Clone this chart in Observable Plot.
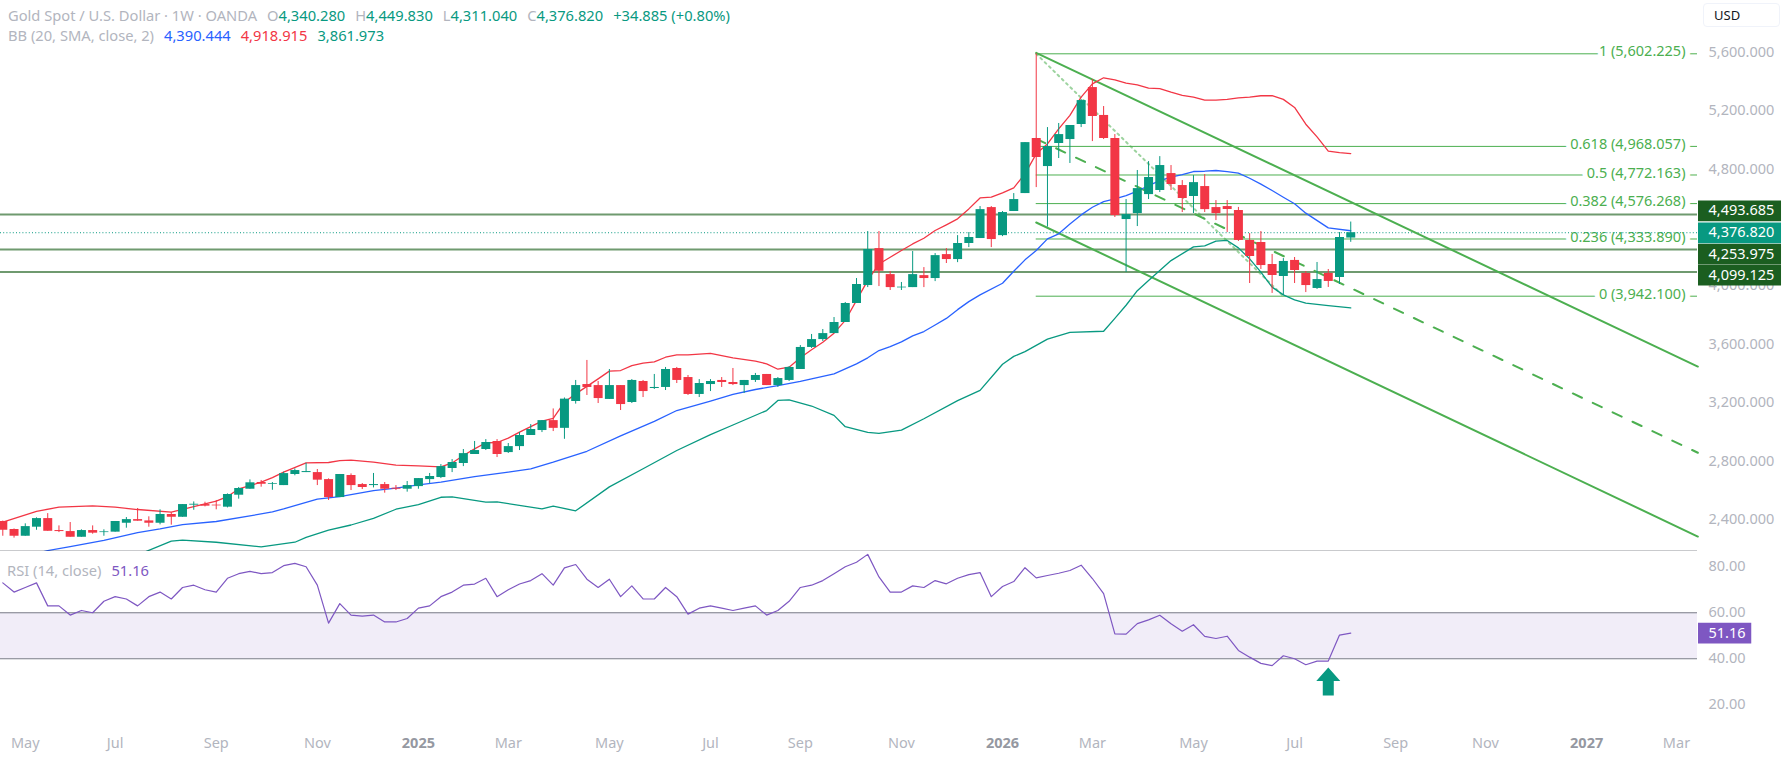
<!DOCTYPE html>
<html>
<head>
<meta charset="utf-8">
<script src="https://cdn.jsdelivr.net/npm/d3@7"></script>
<script src="https://cdn.jsdelivr.net/npm/@observablehq/plot@0.6"></script>
<style>
html,body{margin:0;padding:0;background:#fff;overflow:hidden}
#wrap{position:relative;width:1782px;height:758px;font-family:"Noto Sans",sans-serif}
#wrap svg{display:block;background:transparent}
.hd{position:absolute;left:8px;font-size:14.7px;line-height:20px;white-space:nowrap;color:#b2b5be}
.g{color:#089981}.r{color:#f23645}.b{color:#2962ff}.p{color:#7e57c2}
.gap{margin-left:10px}
#usd{position:absolute;left:1703px;top:3px;width:77px;height:24px;box-sizing:border-box;border:1px solid #f0f3fa;border-radius:4px;font-size:13px;line-height:22px;color:#131722;padding-left:10px}
</style>
</head>
<body>
<div id="wrap">
<div id="main"></div>
<div id="rsi"></div>
<div class="hd" style="top:5px">Gold Spot / U.S. Dollar · 1W · OANDA<span class="gap"></span>O<span class="g">4,340.280</span><span class="gap"></span>H<span class="g">4,449.830</span><span class="gap"></span>L<span class="g">4,311.040</span><span class="gap"></span>C<span class="g">4,376.820</span><span class="gap g">+34.885 (+0.80%)</span></div>
<div class="hd" style="top:25px">BB (20, SMA, close, 2)<span class="gap b">4,390.444</span><span class="gap r">4,918.915</span><span class="gap g">3,861.973</span></div>
<div class="hd" style="top:560px;left:7px">RSI (14, close)<span class="gap p">51.16</span></div>
<div id="usd">USD</div>
</div>
<script>
const opens = [2399,2344,2298,2360,2419,2337,2330,2291,2337,2323,2326,2387,2412,2403,2387,2447,2428,2511,2515,2511,2497,2579,2620,2666,2654,2645,2721,2734,2734,2686,2563,2714,2652,2645,2652,2627,2620,2638,2686,2700,2762,2796,2858,2892,2947,2871,2912,2988,3022,3090,3037,3221,3337,3330,3235,3330,3214,3358,3310,3317,3447,3385,3269,3337,3365,3351,3330,3365,3406,3330,3365,3440,3591,3645,3686,3762,3892,4015,4268,4090,3999,4001,4083,4063,4227,4193,4303,4337,4549,4357,4522,4645,5022,4830,4988,5015,5118,5371,5180,5022,4467,4508,4638,4666,4782,4700,4625,4693,4549,4556,4529,4324,4310,4159,4077,4187,4098,3995,4098,4070,4340.28];
const highs = [2402,2348,2383,2424,2453,2369,2392,2342,2369,2342,2399,2426,2488,2431,2479,2460,2515,2533,2531,2543,2588,2632,2684,2680,2666,2737,2759,2798,2755,2691,2721,2725,2659,2728,2666,2645,2673,2693,2728,2789,2823,2892,2947,2960,2960,2933,3008,3063,3090,3170,3245,3365,3502,3358,3440,3330,3371,3365,3406,3454,3454,3399,3371,3371,3385,3447,3365,3413,3406,3385,3460,3604,3680,3714,3796,3899,4063,4385,4385,4111,4036,4248,4138,4234,4268,4357,4378,4556,4556,4522,4645,4994,5602.225,5097,5125,5111,5289,5426,5241,5049,4604,4803,4864,4898,4837,4734,4768,4775,4597,4597,4550,4371,4385,4228,4200,4207,4111,4173,4125,4378,4449.83];
const lows = [2298,2285,2298,2339,2332,2323,2291,2291,2312,2298,2326,2353,2401,2360,2376,2374,2428,2476,2499,2479,2492,2552,2620,2634,2613,2645,2712,2734,2645,2543,2563,2611,2618,2629,2593,2611,2600,2620,2659,2693,2734,2775,2858,2885,2837,2865,2885,2988,3008,3015,2962,3203,3262,3207,3235,3159,3207,3248,3303,3296,3344,3262,3248,3289,3317,3330,3276,3351,3330,3317,3358,3440,3584,3632,3686,3762,3892,4001,4008,3981,3981,4001,4001,4042,4166,4172,4275,4337,4275,4350,4522,4645,4686,4415,4885,4851,5097,5001,5015,4481,4104,4419,4604,4652,4666,4515,4508,4515,4460,4378,4317,4029,4125,3961,3947,4029,3967,3988,4002,4022,4311.04];
const closes = [2339,2298,2364,2419,2332,2330,2291,2337,2319,2328,2399,2412,2401,2387,2447,2428,2515,2517,2504,2506,2584,2625,2664,2654,2659,2727,2748,2741,2682,2563,2721,2645,2632,2652,2620,2620,2645,2693,2707,2775,2803,2864,2885,2940,2858,2912,2988,3029,3090,3037,3237,3330,3317,3241,3330,3200,3365,3289,3317,3440,3365,3269,3344,3358,3351,3337,3365,3399,3330,3378,3454,3591,3645,3686,3762,3892,4022,4262,4113,4001,4004,4090,4063,4220,4193,4303,4344,4535,4330,4515,4604,4994,4892,4967,5049,5111,5282,5173,5022,4494,4501,4679,4755,4837,4707,4611,4720,4535,4508,4536,4324,4214,4152,4084,4180,4118,4015,4056,4043,4344,4376.82];

const bbUpperBars = [0,3,5,8,10,12,15,17,19,20,21,22,23,24,25,27,29,30,31,33,35,37,39,40,41,42,43,44,45,46,47,48,49,50,51,53,54,55,56,57,58,59,60,61,63,65,67,68,69,70,71,72,73,74,75,76,77,78,79,80,81,82,83,84,85,86,87,88,89,90,91,92,93,94,95,96,97,98,99,100,101,102,103,104,105,106,107,108,109,110,111,112,113,114,115,116,117,118,119,120];
const bbUpperValues = [2394,2469,2497,2506,2497,2481,2463,2501,2538,2570,2622,2645,2668,2700,2737,2800,2803,2816,2819,2805,2785,2780,2773,2800,2851,2896,2938,2940,2970,3011,3049,3086,3106,3216,3273,3376,3429,3433,3467,3483,3492,3524,3540,3540,3550,3520,3497,3479,3442,3456,3520,3575,3627,3689,3776,3913,4050,4163,4209,4255,4300,4339,4392,4431,4472,4540,4615,4620,4650,4684,4780,4917,4985,5088,5180,5305,5396,5438,5424,5401,5390,5367,5364,5339,5317,5305,5285,5285,5290,5300,5305,5315,5315,5290,5235,5120,5033,4935,4925,4918.915];
const bbMidBars = [3,4,6,9,12,14,16,19,22,24,25,28,30,33,35,37,39,42,45,47,49,52,55,58,60,63,65,67,69,71,72,74,76,77,78,79,80,81,82,83,84,85,86,87,89,90,91,92,93,94,95,96,97,98,99,100,101,102,103,104,105,106,107,108,109,110,111,112,113,114,115,116,118,120];
const bbMidValues = [2180,2200,2227,2269,2323,2348,2378,2399,2437,2465,2485,2552,2570,2611,2627,2650,2668,2707,2737,2760,2805,2880,2985,3085,3159,3223,3269,3303,3330,3358,3376,3410,3479,3520,3570,3597,3629,3670,3700,3745,3790,3850,3905,3951,4031,4113,4191,4255,4335,4369,4437,4499,4551,4590,4608,4631,4661,4700,4734,4757,4775,4796,4798,4803,4795,4785,4750,4710,4666,4620,4575,4511,4410,4390.444];
const bbLowerBars = [12,15,16,19,23,26,27,29,31,33,35,37,39,40,43,44,48,49,51,54,57,60,63,65,68,69,70,72,74,75,77,78,80,82,85,87,89,90,91,93,95,98,99,100,101,102,104,106,107,108,109,110,111,112,113,114,115,116,118,120];
const bbLowerValues = [2170,2264,2271,2257,2225,2257,2290,2340,2375,2420,2483,2515,2565,2568,2531,2533,2485,2504,2472,2636,2760,2885,2994,3060,3159,3228,3232,3190,3126,3048,3009,3002,3025,3103,3227,3297,3476,3530,3562,3648,3694,3702,3790,3880,3980,4050,4186,4280,4287,4319,4324,4273,4198,4107,4004,3951,3917,3894,3878,3861.973];

const rsiValues = [73,69,71,73,63,63,59,61,60,65,67,66,63,67,69,66,71,72,70,69,75,77,78,77,77.5,80.5,81.5,80,72,55.5,64,59,58.5,59,56,56,57.5,62,63,67,69,72,72.5,75,67,70,72.5,74,77,72,79.5,81,74.6,71,74.6,67,71.7,66,66,71,67,59.4,62,63,62,61,62,63,59,61,65,71,72,74,77,80,82,85.4,75.6,69,69,71.7,71,74,72.6,75,76.6,77.5,67,71.4,73.6,79.6,75.2,76.2,77.2,78.4,80.7,74.9,68.3,50.8,50.7,55.3,56.9,58.9,55.2,52,54.8,49.7,48.8,49.8,43.6,40.7,38,37,41.3,40,37.4,39,39,50.3,51.16];

const fibLevels = [5602.225,4968.057,4772.163,4576.268,4333.89,3942.1];
const fibRatios = ["1","0.618","0.5","0.382","0.236","0"];
const hLevels = [4493.685,4253.975,4099.125];
const lastPrice = 4376.82;
const priceTicks = [5600,5200,4800,4000,3600,3200,2800,2400];
const labelValues = [4493.685,4253.975,4099.125];
const labelSlots = [4526.9,4229.7,4086.6];
const lastSlot = 4376.3;
const rsiTicks = [80,60,40,20];
const rsiBandLevels = [60,40];
const rsiLast = 51.16;
const arrowBar = 118;
const arrowBase = 24;
const channelTop = [[92,5609],[150.9,3460]];
const channelMid = [[92,5020],[150.9,2870]];
const channelBottom = [[92,4447],[150.9,2296]];
const fibDiagonal = [[92,5602.225],[114,3942.1]];
const monthTicks = [["2024-05-06","May"],["2024-07-01","Jul"],["2024-09-02","Sep"],["2024-11-04","Nov"],["2025-03-03","Mar"],["2025-05-05","May"],["2025-07-07","Jul"],["2025-09-01","Sep"],["2025-11-03","Nov"],["2026-03-02","Mar"],["2026-05-04","May"],["2026-07-06","Jul"],["2026-09-07","Sep"],["2026-11-02","Nov"],["2027-03-01","Mar"]];
const yearTicks = [["2025-01-06","2025"],["2026-01-05","2026"],["2027-01-04","2027"]];

const GREEN="#089981",RED="#f23645",BLUE="#2962ff",DRAW="#4caf50",HL="#6f9a6f",DARK="#1b5e20",PURPLE="#7e57c2",AXIS="#b2b5be";
const FONT='"Noto Sans",sans-serif', FS=14.5;
const WEEK=7*864e5, T0=Date.UTC(2024,3,22);
const barDate=i=>new Date(T0+i*WEEK);
const xDomain=[barDate(-0.205),barDate(150.87)];
const xRight=xDomain[1];
const bars=opens.map((o,i)=>({date:barDate(i),o,h:highs[i],l:lows[i],c:closes[i],up:closes[i]>=o}));
const up=bars.filter(d=>d.up), dn=bars.filter(d=>!d.up);
const series=(b,v)=>b.map((i,k)=>({date:barDate(i),v:v[k]}));
const seg=a=>a.map(([i,v])=>({date:barDate(i),v}));
const fibRows=fibLevels.map((v,k)=>({v,t:`${fibRatios[k]} (${d3.format(",.3f")(v)})`}));
const fmt=d3.format(",.3f");

const main=Plot.plot({
  width:1782,height:551,marginTop:0,marginBottom:0,marginLeft:0,marginRight:85,
  style:{background:"transparent",fontFamily:FONT,fontSize:FS+"px"},
  x:{type:"utc",domain:xDomain,axis:null},
  y:{domain:[2193.5,5967.3],axis:null},
  marks:[
    Plot.axisY(priceTicks,{anchor:"right",tickSize:0,tickPadding:11,tickFormat:d=>fmt(d),label:null,color:AXIS,fontSize:FS,dy:-2}),
    Plot.ruleY(fibRows,{y:"v",x1:()=>barDate(92),x2:()=>xRight,stroke:DRAW,strokeWidth:1}),
    Plot.text(fibRows,{y:"v",text:"t",frameAnchor:"right",dx:-12,dy:-2,textAnchor:"end",fill:DRAW,stroke:"white",strokeWidth:10,fontSize:FS}),
    Plot.ruleY(hLevels,{stroke:HL,strokeWidth:2,dy:-1.2}),
    Plot.ruleY([lastPrice],{stroke:GREEN,strokeDasharray:"1,2.2",strokeWidth:1}),
    Plot.line(seg(fibDiagonal),{x:"date",y:"v",stroke:DRAW,strokeOpacity:.55,strokeWidth:2,strokeDasharray:"2,4"}),
    Plot.line(seg(channelTop),{x:"date",y:"v",stroke:DRAW,strokeWidth:2}),
    Plot.line(seg(channelBottom),{x:"date",y:"v",stroke:DRAW,strokeWidth:2}),
    Plot.line(seg(channelMid),{x:"date",y:"v",stroke:DRAW,strokeWidth:2,strokeDasharray:"10,12"}),
    Plot.line(series(bbUpperBars,bbUpperValues),{x:"date",y:"v",stroke:RED,strokeWidth:1.3,clip:true,curve:"linear"}),
    Plot.line(series(bbMidBars,bbMidValues),{x:"date",y:"v",stroke:BLUE,strokeWidth:1.3,clip:true}),
    Plot.line(series(bbLowerBars,bbLowerValues),{x:"date",y:"v",stroke:GREEN,strokeWidth:1.3,clip:true}),
    Plot.ruleX(up,{x:"date",y1:"l",y2:"h",stroke:GREEN,strokeWidth:1}),
    Plot.ruleX(dn,{x:"date",y1:"l",y2:"h",stroke:RED,strokeWidth:1}),
    Plot.ruleX(up,{x:"date",y1:"o",y2:"c",stroke:GREEN,strokeWidth:9,strokeLinecap:"butt"}),
    Plot.ruleX(dn,{x:"date",y1:"o",y2:"c",stroke:RED,strokeWidth:9,strokeLinecap:"butt"}),
    Plot.ruleY(labelSlots,{x1:()=>barDate(150.96),x2:()=>barDate(158.35),stroke:DARK,strokeWidth:20.8}),
    Plot.ruleY([lastSlot],{x1:()=>barDate(150.96),x2:()=>barDate(158.35),stroke:GREEN,strokeWidth:20.8}),
    Plot.text(labelSlots,{y:d=>d,text:(d,i)=>fmt(labelValues[i]),frameAnchor:"right",dx:11,textAnchor:"start",fill:"white",fontSize:FS}),
    Plot.text([lastSlot],{y:d=>d,text:()=>fmt(lastPrice),frameAnchor:"right",dx:11,textAnchor:"start",fill:"white",fontSize:FS}),
    Plot.ruleY([2193.5],{stroke:"#2a2e39",strokeWidth:1.5})
  ]
});
document.getElementById("main").append(main);

const arrowShape={draw(c,l){const w=12,s=5.5,h=l*0.48;c.moveTo(-s,0);c.lineTo(-s,-l+h);c.lineTo(-w,-l+h);c.lineTo(0,-l);c.lineTo(w,-l+h);c.lineTo(s,-l+h);c.lineTo(s,0);c.closePath();}};
const rsiChart=Plot.plot({
  width:1782,height:207,marginTop:0,marginBottom:31,marginLeft:0,marginRight:85,
  style:{background:"transparent",fontFamily:FONT,fontSize:FS+"px"},
  x:{type:"utc",domain:xDomain,axis:null},
  y:{domain:[10.1,86.65],axis:null},
  marks:[
    Plot.rectY([0],{y1:()=>40,y2:()=>60,x1:()=>xDomain[0],x2:()=>xRight,fill:PURPLE,fillOpacity:.11}),
    Plot.ruleY(rsiBandLevels,{stroke:"#787b86",strokeWidth:1}),
    Plot.line(rsiValues,{x:(d,i)=>barDate(i),y:d=>d,stroke:PURPLE,strokeWidth:1.2}),
    Plot.vector([arrowBar],{x:d=>barDate(d),y:()=>arrowBase,length:28,anchor:"start",shape:arrowShape,fill:GREEN,stroke:"none"}),
    Plot.axisY(rsiTicks,{anchor:"right",tickSize:0,tickPadding:11,tickFormat:d=>d3.format(".2f")(d),label:null,color:AXIS,fontSize:FS}),
    Plot.ruleY([rsiLast],{x1:()=>barDate(150.96),x2:()=>barDate(155.7),stroke:PURPLE,strokeWidth:20.8}),
    Plot.text([rsiLast],{y:d=>d,text:d=>d3.format(".2f")(d),frameAnchor:"right",dx:11,textAnchor:"start",fill:"white",fontSize:FS}),
    Plot.axisX(monthTicks.map(d=>new Date(d[0])),{anchor:"bottom",tickSize:0,tickPadding:10,tickFormat:(d,i)=>monthTicks[i][1],label:null,color:AXIS,fontSize:FS}),
    Plot.axisX(yearTicks.map(d=>new Date(d[0])),{anchor:"bottom",tickSize:0,tickPadding:10,tickFormat:(d,i)=>yearTicks[i][1],label:null,color:"#9598a1",fontWeight:"bold",fontSize:FS})
  ]
});
document.getElementById("rsi").append(rsiChart);
</script>
</body>
</html>
